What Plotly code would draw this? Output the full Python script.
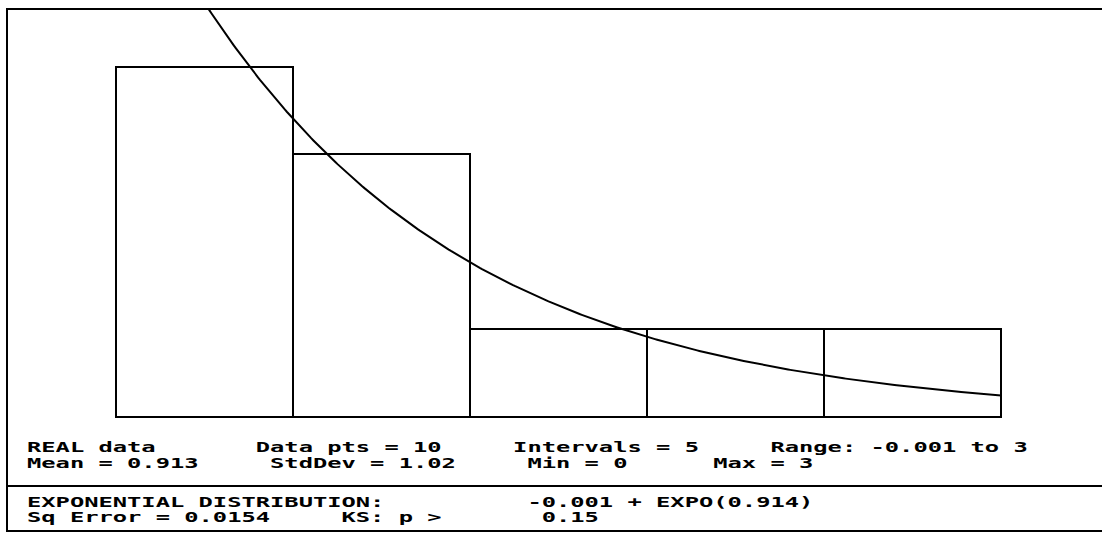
import numpy as np
import plotly.graph_objects as go

# Histogram of the sample: 5 equal intervals over [-0.001, 3]
bin_edges = [-0.001, 0.5992, 1.1994, 1.7996, 2.3998, 3.0]
counts = [4, 3, 1, 1, 1]
n_points = 10

# Fitted exponential: -0.001 + EXPO(0.914)
expo_offset = -0.001
expo_mean = 0.914

summary_lines = [
    "REAL data       Data pts = 10     Intervals = 5     Range: -0.001 to 3",
    "Mean = 0.913     StdDev = 1.02     Min = 0      Max = 3",
]
fit_lines = [
    "EXPONENTIAL DISTRIBUTION:          -0.001 + EXPO(0.914)",
    "Sq Error = 0.0154     KS: p >       0.15",
]

W, H = 1102, 533
L, T, B = 6, 9, 48  # plot-area margins in pixels
plot_h = H - T - B
plot_w = W - L

edges = np.array(bin_edges)
widths = np.diff(edges)
centers = edges[:-1] + widths / 2
rel_freq = np.array(counts) / n_points

# Density of the fit scaled to one interval width
xs = np.linspace(edges[0], edges[-1], 400)
ys = widths[0] / expo_mean * np.exp(-(xs - expo_offset) / expo_mean)

fig = go.Figure()
fig.add_trace(go.Bar(
    x=centers, y=rel_freq, width=widths,
    marker=dict(color="white", line=dict(color="black", width=2)),
    hoverinfo="skip",
))
fig.add_trace(go.Scatter(
    x=xs, y=ys, mode="lines",
    line=dict(color="black", width=2),
    hoverinfo="skip",
))


def px_to_paper_x(px):
    return (px - L) / plot_w


def px_to_paper_y(py):
    return (H - B - py) / plot_h


# Frame: top edge, left edge, divider and bottom rule
frame = [
    (L, T, W, T),
    (L + 1, T, L + 1, 531),
    (L, 486, W, 486),
    (L, 531, W, 531),
]
shapes = []
for x0, y0, x1, y1 in frame:
    shapes.append(dict(
        type="line", xref="paper", yref="paper",
        x0=px_to_paper_x(x0), y0=px_to_paper_y(y0),
        x1=px_to_paper_x(x1), y1=px_to_paper_y(y1),
        line=dict(color="black", width=2),
    ))

text_font = dict(family="DejaVu Sans Mono", size=13.5, color="black", weight="bold")
text_rows = [
    (summary_lines[0], 447),
    (summary_lines[1], 463),
    (fit_lines[0], 502),
    (fit_lines[1], 517),
]
annotations = []
for txt, py in text_rows:
    annotations.append(dict(
        text=txt.replace(" ", "&nbsp;"), xref="paper", yref="paper",
        x=px_to_paper_x(25), y=px_to_paper_y(py),
        xanchor="left", yanchor="middle", showarrow=False,
        font=text_font, align="left",
    ))

# y-axis scale: 876 px per unit of relative frequency, zero at y=417
px_per_unit_y = 876.0
y_top = (417 - T) / px_per_unit_y
y_bot = -(H - B - 417) / px_per_unit_y
# x-axis scale: interval edges from x=116 to x=1001
px_per_unit_x = (1001 - 116) / (edges[-1] - edges[0])
x_left = edges[0] - (116 - L) / px_per_unit_x
x_right = edges[-1] + (W - 1001) / px_per_unit_x

fig.update_layout(
    width=W, height=H,
    margin=dict(l=L, r=0, t=T, b=B),
    paper_bgcolor="white", plot_bgcolor="white",
    showlegend=False,
    xaxis=dict(range=[x_left, x_right], visible=False, fixedrange=True),
    yaxis=dict(range=[y_bot, y_top], visible=False, fixedrange=True),
    shapes=shapes,
    annotations=annotations,
    bargap=0,
)

# Widen the monospace text to the wide DOS-style character cell
post = """
var gd = document.getElementById('{plot_id}');
function widen() {
  gd.querySelectorAll('.annotation-text').forEach(function (t) {
    t.style.transformBox = 'fill-box';
    t.style.transformOrigin = '0 50%';
    t.style.transform = 'scaleX(1.76)';
  });
}
widen();
gd.on('plotly_afterplot', widen);
"""
fig.write_html("out.html", post_script=post, config={"displayModeBar": False})
